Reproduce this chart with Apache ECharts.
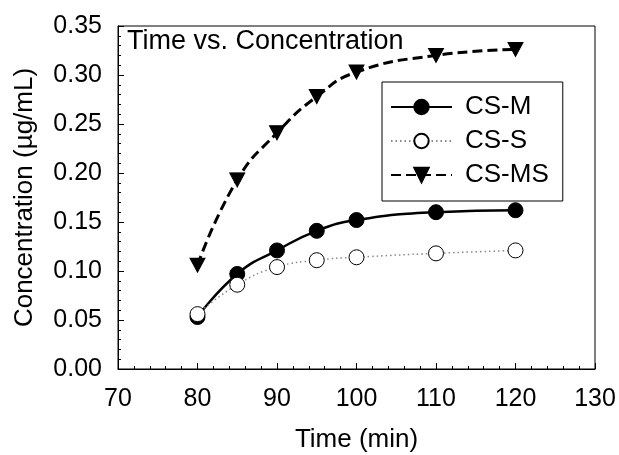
<!DOCTYPE html>
<html>
<head>
<meta charset="utf-8">
<script src="https://cdn.jsdelivr.net/npm/echarts@6/dist/echarts.min.js"></script>
<style>
  html, body { margin: 0; padding: 0; background: #fff; }
  #main { width: 619px; height: 455px; }
</style>
</head>
<body>
<div id="main"></div>
<script>
// sampling times (min)
let timePoints = [80, 85, 90, 95, 100, 110, 120];
// concentrations (ug/mL)
let csM = [0.053, 0.097, 0.121, 0.141, 0.152, 0.160, 0.162];
let csS = [0.056, 0.086, 0.104, 0.111, 0.114, 0.118, 0.121];
let csMS = [0.106, 0.193, 0.241, 0.278, 0.303, 0.320, 0.326];
let seriesNames = ['CS-M', 'CS-S', 'CS-MS'];

const FONT = 'Liberation Sans, Arial, sans-serif';

function pairs(ys) {
    return timePoints.map((t, i) => [t, ys[i]]);
}

let myChart = echarts.init(document.getElementById('main'));

let option = {
    animation: false,
    backgroundColor: '#fff',
    textStyle: { fontFamily: FONT, color: '#000' },
    grid: {
        left: 118, right: 24, top: 26, bottom: 86,
        outerBoundsMode: 'none',
        containLabel: false,
        show: true, borderColor: '#000', borderWidth: 1
    },
    graphic: [{
        type: 'text',
        left: 127,
        top: 28,
        style: { text: 'Time vs. Concentration', font: '27px ' + FONT, fill: '#000' }
    }],
    legend: {
        data: seriesNames,
        orient: 'vertical',
        left: 382,
        top: 82,
        padding: [12, 14, 13, 8],
        itemWidth: 61,
        itemHeight: 18,
        itemGap: 8,
        borderColor: '#000',
        borderWidth: 1,
        backgroundColor: '#fff',
        textStyle: { fontFamily: FONT, fontSize: 26, color: '#000', padding: [0, 0, 0, 8] }
    },
    xAxis: {
        type: 'value',
        min: 70, max: 130, interval: 10,
        name: 'Time (min)',
        nameLocation: 'middle',
        nameGap: 58,
        nameTextStyle: { fontSize: 26, color: '#000' },
        axisLine: { lineStyle: { color: '#000', width: 1 } },
        axisTick: { inside: true, length: 6, lineStyle: { color: '#000' } },
        minorTick: { show: true, splitNumber: 5, length: 3, lineStyle: { color: '#000' } },
        axisLabel: { fontSize: 25, color: '#000', margin: 18 },
        splitLine: { show: false }
    },
    yAxis: {
        type: 'value',
        min: 0, max: 0.35, interval: 0.05,
        name: 'Concentration (µg/mL)',
        nameLocation: 'middle',
        nameGap: 80,
        nameTextStyle: { fontSize: 26, color: '#000' },
        axisLine: { show: true, lineStyle: { color: '#000', width: 1 } },
        axisTick: { show: true, inside: true, length: 6, lineStyle: { color: '#000' } },
        minorTick: { show: true, splitNumber: 5, length: 3, lineStyle: { color: '#000' } },
        axisLabel: { fontSize: 25, color: '#000', margin: 16, formatter: v => v.toFixed(2) },
        splitLine: { show: false }
    },
    series: [
        {
            name: 'CS-M',
            type: 'line',
            smooth: true,
            data: pairs(csM),
            symbol: 'circle',
            symbolSize: 15,
            lineStyle: { color: '#000', width: 2.5, type: 'solid' },
            itemStyle: { color: '#000', borderColor: '#000', borderWidth: 1 }
        },
        {
            name: 'CS-S',
            type: 'line',
            smooth: true,
            data: pairs(csS),
            symbol: 'circle',
            symbolSize: 15,
            lineStyle: { color: '#888', width: 1.5, type: [1.5, 3] },
            itemStyle: { color: '#fff', borderColor: '#000', borderWidth: 1 }
        },
        {
            name: 'CS-MS',
            type: 'line',
            smooth: true,
            data: pairs(csMS),
            symbol: 'path://M0,0 L10,0 L5,9 Z',
            symbolSize: [15, 14],
            lineStyle: { color: '#000', width: 3, type: [10, 5] },
            itemStyle: { color: '#000', borderColor: '#000', borderWidth: 1 }
        }
    ]
};

myChart.setOption(option);
</script>
</body>
</html>
